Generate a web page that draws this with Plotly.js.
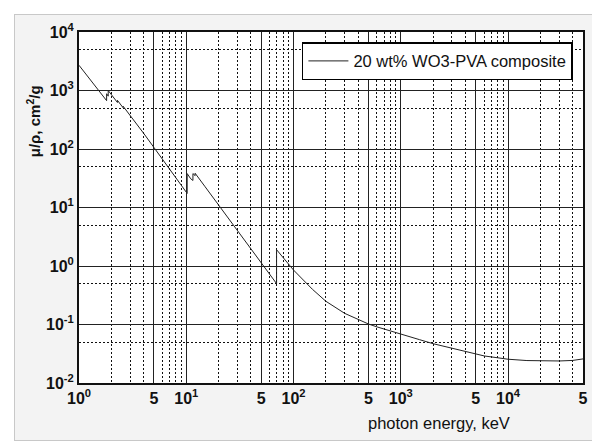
<!DOCTYPE html>
<html>
<head>
<meta charset="utf-8">
<script src="https://cdn.plot.ly/plotly-3.0.1.min.js"></script>
<style>
  html, body { margin: 0; padding: 0; background: #ffffff; width: 592px; height: 442px; overflow: hidden; }
  #panel { position: absolute; left: 14px; top: 14px; width: 578px; height: 427px; box-sizing: border-box;
           border-top: 1px solid #c8c8c8; border-left: 1px solid #c8c8c8; border-bottom: 1px solid #c8c8c8;
           background: #f3f3f3; }
  #chart { position: absolute; left: 0; top: 0; width: 577px; height: 425px; }
</style>
</head>
<body>
<div id="panel"><div id="chart"></div></div>
<script>
// photon energy, keV
const energy = [1, 1.5, 1.809, 1.809, 1.872, 1.872, 2, 2.281, 2.281, 2.575, 2.575, 2.82, 2.82,
  3, 4, 5, 6, 8, 10.2, 10.2, 11.0, 11.54, 11.54, 12.1, 12.1, 15, 20, 30, 40, 50, 60, 69.5, 69.5,
  80, 100, 150, 200, 300, 400, 500, 600, 800, 1000, 1500, 2000, 3000, 4000, 5000, 6000, 8000,
  10000, 15000, 20000, 30000, 40000, 50000];
// mass attenuation coefficient, cm2/g
const muRho = [2700, 1040, 670, 880, 800, 1000, 854, 624, 680, 508, 540, 434, 450,
  385, 186, 106, 66.6, 32.2, 17.4, 38, 31, 29, 38, 35, 38.5, 22.6, 11.0, 4.0, 1.96, 1.13, 0.714, 0.50, 1.9,
  1.39, 0.853, 0.40, 0.25, 0.155, 0.122, 0.102, 0.091, 0.077, 0.068, 0.055, 0.047, 0.039, 0.0345, 0.031, 0.029, 0.027,
  0.0255, 0.0242, 0.0238, 0.0238, 0.0243, 0.0258];
const seriesName = "20 wt% WO3-PVA composite";

const xTickVals = [1, 5, 10, 50, 100, 500, 1000, 5000, 10000, 50000];
const xTickText = ["10<sup>0</sup>", "5", "10<sup>1</sup>", "5", "10<sup>2</sup>", "5", "10<sup>3</sup>", "5", "10<sup>4</sup>", "5"];
const xMinorVals = [2, 3, 4, 6, 7, 8, 9, 20, 30, 40, 60, 70, 80, 90, 200, 300, 400, 600, 700, 800, 900,
  2000, 3000, 4000, 6000, 7000, 8000, 9000, 20000, 30000, 40000];
const yTickVals = [0.01, 0.1, 1, 10, 100, 1000, 10000];
const yTickText = ["10<sup>-2</sup>", "10<sup>-1</sup>", "10<sup>0</sup>", "10<sup>1</sup>", "10<sup>2</sup>", "10<sup>3</sup>", "10<sup>4</sup>"];
const yMinorVals = [0.05, 0.5, 5, 50, 500, 5000];

const tickFont = { family: "Arial, Liberation Sans, sans-serif", size: 16, color: "#111", weight: "bold" };

const trace = {
  x: energy, y: muRho, type: "scatter", mode: "lines", name: seriesName,
  line: { color: "#222", width: 1 }
};

const layout = {
  width: 577, height: 425,
  margin: { l: 64, r: 9, t: 17, b: 57, pad: 0 },
  paper_bgcolor: "rgba(0,0,0,0)",
  plot_bgcolor: "#ffffff",
  showlegend: true,
  legend: {
    x: 0.980, xanchor: "right", y: 0.971, yanchor: "top",
    bgcolor: "#ffffff", bordercolor: "#000", borderwidth: 1.5,
    font: { family: "Arial, Liberation Sans, sans-serif", size: 16.5, color: "#111" },
    itemwidth: 40
  },
  xaxis: {
    type: "log", range: [0, Math.log10(50000)],
    tickmode: "array", tickvals: xTickVals, ticktext: xTickText,
    tickfont: tickFont, ticks: "",
    showgrid: true, gridcolor: "#222", gridwidth: 1,
    showline: true, mirror: true, linecolor: "#111", linewidth: 2,
    zeroline: false,
    minor: { tickmode: "array", tickvals: xMinorVals, showgrid: true, gridcolor: "#111", gridwidth: 1, griddash: "2px,2px", ticks: "" }
  },
  yaxis: {
    type: "log", range: [-2, 4],
    tickmode: "array", tickvals: yTickVals, ticktext: yTickText,
    tickfont: tickFont, ticks: "",
    showgrid: true, gridcolor: "#222", gridwidth: 1,
    showline: true, mirror: true, linecolor: "#111", linewidth: 2,
    zeroline: false,
    minor: { tickmode: "array", tickvals: yMinorVals, showgrid: true, gridcolor: "#111", gridwidth: 1, griddash: "2px,2px", ticks: "" }
  },
  annotations: [
    { text: "photon energy, keV", xref: "paper", yref: "paper", x: (439 - 79) / 504, y: -(422 - 382) / 350,
      xanchor: "center", yanchor: "middle", showarrow: false,
      font: { family: "Arial, Liberation Sans, sans-serif", size: 16.5, color: "#111" } },
    { text: "μ/ρ, cm<sup>2</sup>/g", xref: "paper", yref: "paper", x: -(79 - 33) / 504, y: (382 - 121) / 350,
      xanchor: "center", yanchor: "middle", textangle: -90, showarrow: false,
      font: { family: "Arial, Liberation Sans, sans-serif", size: 15, color: "#111", weight: "bold" } }
  ]
};

Plotly.newPlot("chart", [trace], layout, { displayModeBar: false, staticPlot: true });
</script>
</body>
</html>
